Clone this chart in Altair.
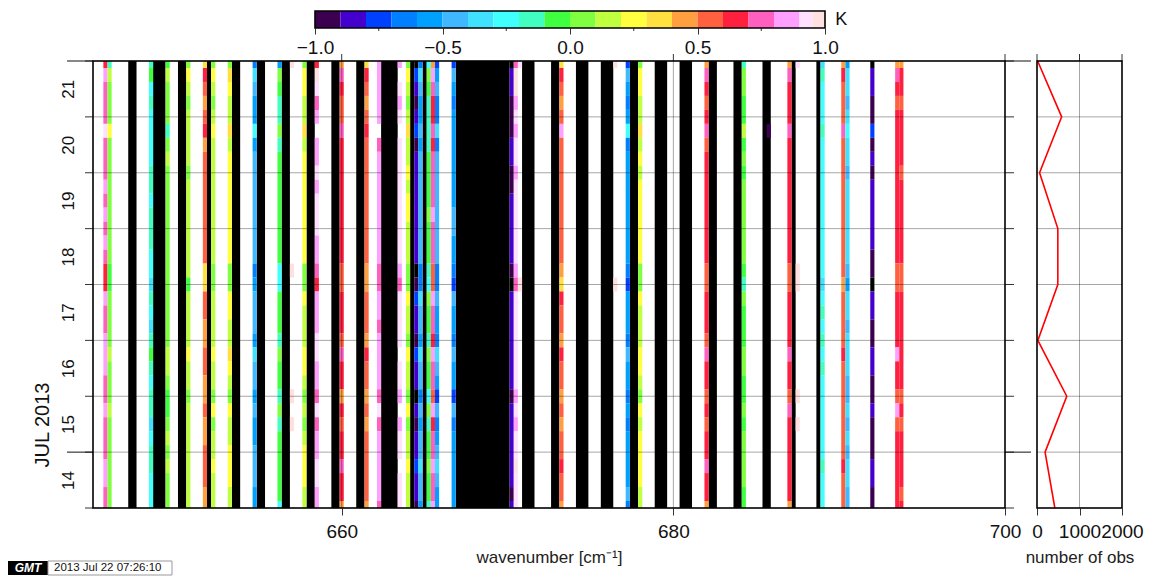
import altair as alt
import pandas as pd

FONT = "Liberation Sans"

# ---- colour palette: one letter per 0.1 K class of the colour bar ----
level_letters = list("abcdefghijklmnopqrstu") + ["K"]
level_z = [-0.95, -0.85, -0.75, -0.65, -0.55, -0.45, -0.35, -0.25, -0.15, -0.05,
           0.05, 0.15, 0.25, 0.35, 0.45, 0.55, 0.65, 0.75, 0.85, 0.925, 0.975, -1.05]
thresholds = [-1.0, -0.9, -0.8, -0.7, -0.6, -0.5, -0.4, -0.3, -0.2, -0.1, 0.0,
              0.1, 0.2, 0.3, 0.4, 0.5, 0.6, 0.7, 0.8, 0.9, 0.95, 1.0]
palette = ["#000000", "#3c0050", "#4400cc", "#0040ff", "#0080ff", "#00a0ff", "#40b8ff",
           "#40e0ff", "#40ffff", "#40ffc0", "#40ff40", "#80ff40", "#c0ff40", "#ffff40",
           "#ffe040", "#ffa040", "#ff6040", "#ff2040", "#ff60c0", "#ffa0ff", "#ffe0ff",
           "#ffe0e0", "#ffffff"]

# ---- channels: wavenumber = 645 + 0.25 * index ----
black_channels = [9, 10, 15, 16, 17, 21, 22, 28, 34, 35, 40, 41, 46, 47, 52, 53, 58, 59, 64, 65,
                  70, 71, 72, 73, 77, 80, 88, 89, 90, 91, 92, 93, 94, 95, 96, 97, 98, 99, 100,
                  104, 105, 106, 111, 112, 117, 118, 119, 123, 124, 125, 130, 131, 136, 137, 138,
                  142, 143, 144, 149, 150, 155, 156, 162, 163, 169, 175]

stripe_channels = [3, 4, 14, 18, 23, 27, 29, 33, 39, 45, 48, 51, 54, 60, 66, 69, 74, 76, 78, 79,
                   81, 82, 83, 87, 101, 102, 103, 113, 126, 129, 132, 148, 157, 163, 168, 170,
                   176, 181, 182, 188, 194, 195]

# 33 six-hourly rows, top (22 Jul) to bottom (14 Jul); '.' = above the scale (white)
stripe_levels = [
    "qsrrrtrrrsrsrsr qq s rr sss rr s rrr ss rr",
    "ilkkkm kkkkkkkkk jj kkkk l kkk l kkkkkkk",
    "ijhihhhhiihiiihhgihgijihiighiihhh",
    "jlkkkikl kkkkkkkkkkkkk ll k jj k l k l kkk",
    "kmlkllllk lllllll j llll m ll k llllllll",
    "nqpopqo pppppppp nn pp oo pp oo p oo ppp oo",
    "kmlklm lllllllll kk llll m ll k m k ll m lll",
    "knmllnl mmmmmmmm kk mm ll n m l k m ll mmm ll",
    "dgfeehe ffffffff de fff e g ff e f ee fff ee",
    "ekjiiki jjjjjjjj hh jjj i k jj i k i jjjjj h",
    "u.............. u ........ u . u ......",
    "kmmllnl mmmmmmmm kk m lll mm l k l k l mmm ll",
    "q u t r s . ss t s ttt ss r q sss tt ss r t r ss tt ss",
    "orqppr qqqqqqqqq pp qqq p r qq o q p qq r qq o",
    "nqpopq ppppppppp oo ppp o q pp o p o ppppp o",
    "sssss.r ssssssss rr ss r ssss r t r sssss r",
    "s.tst. ttttttttt sr tttt . tt s . s tt . tt t",
    "kmlkln ll m l mm lll kk m ll k m ll k m k ll m ll l",
    "Kcbabca bbbbbbbb K a c bb a c bb K b a bb c bb a",
    "dgfeefe ffffffff dd g ff e g ff d f e ff g ff e",
    "hkjiiii jjjj k jjj i h k jj i k jj h k i jj k jj i",
    "osrqqrq rrrr s rrr pp s rr q s rr p s q rr s rr s",
    "cefddgd ffffffff dd f ee d g f e c f d e f g f e e",
    "cfed eeeeeee ff ee d c f ee d f ee c f d eeeeee",
    "Kbbaaabbaa bbbbb a K bbbbbbb a bbbbbb a b",
    "r uu s t s tt s tttttt s r ttttttt s t s tt u ttt",
    "t............... u ................",
    "nqpops ppppppppp on q pp o q pp o p o pp q pp o",
    "u............... u ................",
    "cfedehd eeeeeeee dc eee d f ee d e d eeee f d",
    "kmmllnlml mmmmmm kk m lll mm l k m l mmmm ll",
    "orqpqrp qqqqqqqq pp qqq p r qq p q p qq r qq o",
    "ikkjjljkj kkkkkk ji k jjj kk jj k j kkkk jj",
    ".....a...........................",
    "orqqqr qqqqqqqqq pp qqqq r qq p r qqqqqq o",
    "t.............. uu ....... u . u ......",
    "gihhhi hhhhhhhhh h g h i h i h i hhhhhh i hhh",
    "oqpppr pppppppppp o pppp q ppppppp q ppp",
    "eggfghggf gggggg fe gg f ggg ff g f g f gg ff",
    "Kbbaacaba bbbbb aa K bb aa bb aa b aaa bb aa",
    "orqp qqqqqqqqqqq pp qqqq s qq p s p qqqqqq",
    "oqqp qqqq p qqqqqq pp qqqqqqq p q p qqqq p q",
]

# ---- number of observations ----
obs_days = [22, 21, 20, 19, 18, 17, 16, 15, 14]
obs_count = [15, 580, 60, 490, 490, 20, 700, 190, 420]

day_ticks = [14, 15, 16, 17, 18, 19, 20, 21, 22]
long_day_ticks = [15, 22]
x_ticks = [660, 680, 700]
x_grid = [660, 680]
obs_ticks = [0, 1000, 2000]
obs_grid = [1000]
bar_major = [-1.0, -0.5, 0.0, 0.5, 1.0]
bar_minor = [-0.75, -0.25, 0.25, 0.75]
bar_lo = [-1.0, -0.9, -0.8, -0.7, -0.6, -0.5, -0.4, -0.3, -0.2, -0.1, 0.0,
          0.1, 0.2, 0.3, 0.4, 0.5, 0.6, 0.7, 0.8, 0.9, 0.95]
bar_hi = bar_lo[1:] + [1.0]


def wn(k):
    return 645 + 0.25 * k


letter_to_z = dict(zip(level_letters, level_z))
cells = []
for k, raw in zip(stripe_channels, stripe_levels):
    s = raw.replace(" ", "")
    assert len(s) == 33, (k, len(s))
    r = 0
    while r < 33:
        e = r
        while e + 1 < 33 and s[e + 1] == s[r]:
            e += 1
        if s[r] != ".":
            cells.append(dict(x0=wn(k) - 0.125, x1=wn(k) + 0.125,
                              y0=max(14, 22 - 0.25 * e - 0.125),
                              y1=min(22, 22 - 0.25 * r + 0.125),
                              z=letter_to_z[s[r]]))
        r = e + 1
cells = pd.DataFrame(cells)

bands = []
for k in black_channels:
    if bands and bands[-1][1] == k - 1:
        bands[-1][1] = k
    else:
        bands.append([k, k])
bands = pd.DataFrame([dict(x0=wn(a) - 0.125, x1=wn(b) + 0.125, z=-1.05) for a, b in bands])

color = alt.Color("z:Q", legend=None,
                  scale=alt.Scale(type="threshold", domain=thresholds, range=palette))

W, H = 912, 447
xs = alt.Scale(domain=[645, 700], nice=False, zero=False)
ys = alt.Scale(domain=[14, 22], nice=False, zero=False)
os_ = alt.Scale(domain=[0, 2000], nice=False)
days = pd.DataFrame({"d": day_ticks})
longd = pd.DataFrame({"d": long_day_ticks})
one = pd.DataFrame({"a": [1]})

x_axis = alt.Axis(values=x_ticks, format="d", grid=False, domain=False, tickSize=7, tickColor="#333",
                  labelFont=FONT, labelFontSize=19, labelColor="#111", labelPadding=7,
                  labelOverlap=False, labelFlush=False,
                  title="wavenumber [cm⁻¹]", titleFont=FONT, titleFontSize=17, titleFontWeight="normal",
                  titleColor="#222", titlePadding=8)

y_axis = alt.Axis(values=day_ticks, grid=False, domain=False, ticks=False, title=None,
                  labelExpr="datum.value < 22 ? datum.label : ''", labelAngle=270,
                  labelAlign="center", labelBaseline="bottom", labelOffset=-28,
                  labelFont=FONT, labelFontSize=17, labelColor="#111", labelPadding=16,
                  labelOverlap=False, labelFlush=False)

X = lambda f: alt.X(f, scale=xs, axis=x_axis)
Y = lambda f: alt.Y(f, scale=ys, axis=y_axis)

l_black = alt.Chart(bands).mark_rect().encode(x=X("x0:Q"), x2="x1:Q", color=color)
l_cells = alt.Chart(cells).mark_rect().encode(x=X("x0:Q"), x2="x1:Q", y=Y("y0:Q"), y2="y1:Q", color=color)
l_gy = alt.Chart(days).mark_rule(color="black", opacity=0.35, strokeWidth=1).encode(y=Y("d:Q"))
l_gx = alt.Chart(pd.DataFrame({"v": x_grid})).mark_rule(color="black", opacity=0.35, strokeWidth=1).encode(x=X("v:Q"))
l_top = alt.Chart(pd.DataFrame({"v": x_ticks})).mark_rule(color="#333", strokeWidth=1).encode(
    x=X("v:Q"), y=alt.value(-7), y2=alt.value(0))
l_left = alt.Chart(days).mark_rule(color="#333", strokeWidth=1).encode(y=Y("d:Q"), x=alt.value(-8), x2=alt.value(0))
l_right = alt.Chart(days).mark_rule(color="#333", strokeWidth=1).encode(y=Y("d:Q"), x=alt.value(W), x2=alt.value(W + 9))
l_left2 = alt.Chart(longd).mark_rule(color="#111", strokeWidth=1).encode(y=Y("d:Q"), x=alt.value(-26), x2=alt.value(0))
l_right2 = alt.Chart(longd).mark_rule(color="#111", strokeWidth=1).encode(y=Y("d:Q"), x=alt.value(W), x2=alt.value(W + 26))
l_frame = alt.Chart(one).mark_rect(fillOpacity=0, stroke="black", strokeWidth=1.6).encode(
    x=alt.value(0), x2=alt.value(W), y=alt.value(0), y2=alt.value(H))
l_jul = alt.Chart(one).mark_text(text="JUL 2013", angle=270, font=FONT, fontSize=20,
                                 color="#111", baseline="middle", align="center").encode(
    x=alt.value(-50), y=alt.value(364))
l_logo = alt.Chart(one).mark_rect(color="black").encode(
    x=alt.value(-85), x2=alt.value(-45), y=alt.value(500), y2=alt.value(514))
l_stamp = alt.Chart(one).mark_rect(fill="white", stroke="#999", strokeWidth=1).encode(
    x=alt.value(-45), x2=alt.value(79), y=alt.value(500), y2=alt.value(514))
l_gmt = alt.Chart(one).mark_text(text="GMT", font=FONT, fontSize=12, fontWeight="bold", fontStyle="italic",
                                 color="white", baseline="middle", align="center").encode(
    x=alt.value(-65), y=alt.value(507))
l_time = alt.Chart(one).mark_text(text="2013 Jul 22 07:26:10", font=FONT, fontSize=11.5,
                                  color="#111", baseline="middle", align="left").encode(
    x=alt.value(-39), y=alt.value(507))

main = alt.layer(l_black, l_cells, l_gy, l_gx, l_top, l_left, l_right, l_left2, l_right2, l_frame,
                 l_jul, l_logo, l_stamp, l_gmt, l_time).properties(width=W, height=H)

# ---- side panel ----
SW = 85
obs = pd.DataFrame({"d": obs_days, "n": obs_count})
o_axis = alt.Axis(values=obs_ticks, format="d", grid=False, domain=False, tickSize=7, tickColor="#333",
                  labelFont=FONT, labelFontSize=19, labelColor="#111", labelPadding=7,
                  labelOverlap=False, labelFlush=False,
                  title="number of obs", titleFont=FONT, titleFontSize=17, titleFontWeight="normal",
                  titleColor="#222", titlePadding=8)
OX = lambda f: alt.X(f, scale=os_, axis=o_axis)
s_gy = alt.Chart(days).mark_rule(color="black", opacity=0.35, strokeWidth=1).encode(
    y=alt.Y("d:Q", scale=ys, axis=None))
s_gx = alt.Chart(pd.DataFrame({"v": obs_grid})).mark_rule(color="black", opacity=0.35, strokeWidth=1).encode(x=OX("v:Q"))
s_top = alt.Chart(pd.DataFrame({"v": obs_ticks})).mark_rule(color="#333", strokeWidth=1).encode(
    x=OX("v:Q"), y=alt.value(-7), y2=alt.value(0))
s_line = alt.Chart(obs).mark_line(color="#ff0000", strokeWidth=1.6).encode(
    x=OX("n:Q"), y=alt.Y("d:Q", scale=ys, axis=None), order="d:Q")
s_frame = alt.Chart(one).mark_rect(fillOpacity=0, stroke="black", strokeWidth=1.6).encode(
    x=alt.value(0), x2=alt.value(SW), y=alt.value(0), y2=alt.value(H))
side = alt.layer(s_gy, s_gx, s_top, s_line, s_frame).properties(width=SW, height=H)

# ---- colour bar ----
BW, BH = 912, 17
bs = alt.Scale(domain=[-1 - 222 / 255, 1 + 180 / 255], nice=False, zero=False)
bar_df = pd.DataFrame({"x0": bar_lo, "x1": bar_hi})
bar_df["z"] = (bar_df.x0 + bar_df.x1) / 2
b_axis = alt.Axis(values=bar_major, format=".1f", grid=False, domain=False, tickSize=6, tickColor="#333",
                  labelFont=FONT, labelFontSize=19, labelColor="#111", labelPadding=4, title=None,
                  labelOverlap=False, labelFlush=False)
BX = lambda f: alt.X(f, scale=bs, axis=b_axis)
b_rect = alt.Chart(bar_df).mark_rect().encode(x=BX("x0:Q"), x2="x1:Q", color=color)
b_minor = alt.Chart(pd.DataFrame({"v": bar_minor})).mark_rule(color="#333", strokeWidth=1).encode(
    x=BX("v:Q"), y=alt.value(BH), y2=alt.value(BH + 3))
b_frame = alt.Chart(pd.DataFrame({"x0": [-1.0], "x1": [1.0]})).mark_rect(
    fillOpacity=0, stroke="black", strokeWidth=1.6).encode(x=BX("x0:Q"), x2="x1:Q")
b_k = alt.Chart(pd.DataFrame({"v": [1.04]})).mark_text(
    text="K", font=FONT, fontSize=18, color="#111", align="left", baseline="middle").encode(
    x=BX("v:Q"), y=alt.value(BH / 2))
bar = alt.layer(b_rect, b_minor, b_frame, b_k).properties(width=BW, height=BH)

chart = alt.vconcat(bar, alt.hconcat(main, side, spacing=-7), spacing=-25).properties(
    padding={"left": 0, "top": 2, "right": 0, "bottom": 0},
    background="white",
).configure_view(stroke=None)

chart.save("out.html", embed_options={"renderer": "svg", "actions": False})
